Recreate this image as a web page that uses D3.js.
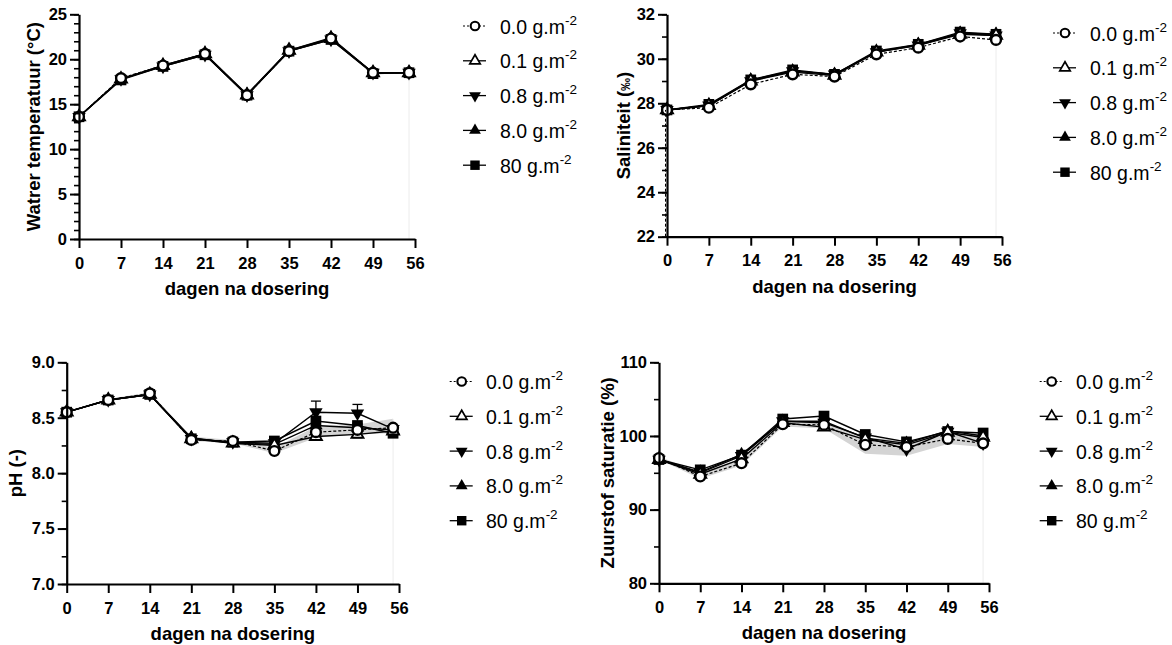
<!DOCTYPE html>
<html>
<head>
<meta charset="utf-8">
<script src="https://cdn.jsdelivr.net/npm/d3@7"></script>
<style>
  body { margin: 0; background: #fff; }
  svg { display: block; }
  text { font-family: "Liberation Sans", Arial, Helvetica, sans-serif; fill: #000; }
</style>
</head>
<body>
<svg id="chart" width="1172" height="645"></svg>
<script>
// Sampling days and dose groups
const days = [0, 7, 14, 21, 28, 35, 42, 49, 55];
const doses = ["0.0", "0.1", "0.8", "8.0", "80"];
const xTickValues = [0, 7, 14, 21, 28, 35, 42, 49, 56];

// Water temperature (°C) per dose group
const temp00 = [13.6, 17.9, 19.3, 20.6, 16.0, 20.9, 22.3, 18.5, 18.5];
const temp01 = [13.6, 17.8, 19.3, 20.6, 16.0, 21.0, 22.3, 18.5, 18.5];
const temp08 = [13.6, 17.8, 19.2, 20.5, 16.0, 20.9, 22.2, 18.5, 18.5];
const temp80 = [13.6, 17.8, 19.3, 20.6, 16.1, 21.0, 22.4, 18.5, 18.5];
const temp800 = [13.6, 17.7, 19.2, 20.5, 16.0, 20.9, 22.2, 18.4, 18.5];

// Salinity (‰) per dose group
const sal00 = [27.7, 27.8, 28.85, 29.3, 29.2, 30.2, 30.5, 31.0, 30.85];
const sal01 = [27.7, 27.9, 29.0, 29.4, 29.25, 30.3, 30.6, 31.1, 31.05];
const sal08 = [27.7, 27.9, 29.0, 29.45, 29.3, 30.3, 30.6, 31.15, 31.05];
const sal80 = [27.7, 27.9, 29.05, 29.45, 29.3, 30.3, 30.65, 31.15, 31.1];
const sal800 = [27.7, 27.95, 29.05, 29.5, 29.3, 30.35, 30.65, 31.2, 31.1];

// pH per dose group, with standard deviations
const ph00 = [8.55, 8.66, 8.72, 8.30, 8.29, 8.20, 8.37, 8.39, 8.41];
const ph01 = [8.55, 8.66, 8.71, 8.31, 8.27, 8.25, 8.33, 8.35, 8.38];
const ph08 = [8.55, 8.66, 8.71, 8.31, 8.28, 8.27, 8.55, 8.54, 8.40];
const ph80 = [8.55, 8.66, 8.71, 8.32, 8.27, 8.26, 8.43, 8.41, 8.39];
const ph800 = [8.55, 8.66, 8.71, 8.31, 8.28, 8.29, 8.47, 8.43, 8.36];
const phSd01 = [0, 0, 0, 0, 0.01, 0, 0.02, 0.03, 0];
const phSd08 = [0, 0, 0, 0, 0, 0, 0.10, 0.08, 0];
const phSd80 = [0, 0, 0, 0, 0, 0, 0.02, 0.03, 0];
const phSd800 = [0, 0, 0, 0, 0, 0.01, 0.03, 0.02, 0.01];
const phCtrlLow = [8.55, 8.65, 8.70, 8.29, 8.27, 8.18, 8.32, 8.35, 8.36];
const phCtrlHigh = [8.56, 8.67, 8.73, 8.33, 8.30, 8.23, 8.42, 8.44, 8.49];

// Oxygen saturation (%) per dose group
const do00 = [97.0, 94.5, 96.3, 101.6, 101.5, 98.8, 98.5, 99.6, 99.0];
const do01 = [96.8, 94.8, 96.9, 101.8, 101.2, 99.5, 98.8, 100.5, 99.8];
const do08 = [96.8, 95.0, 97.3, 102.0, 101.8, 99.8, 98.2, 100.6, 99.0];
const do80 = [96.8, 95.1, 97.5, 102.0, 102.0, 99.7, 99.0, 100.7, 100.0];
const do800 = [96.8, 95.4, 97.4, 102.3, 102.7, 100.2, 99.2, 100.6, 100.4];
const doCtrlLow = [96.8, 94.2, 96.0, 101.3, 101.0, 97.6, 97.3, 98.9, 98.5];
const doCtrlHigh = [97.2, 95.0, 96.8, 101.9, 101.9, 99.8, 99.4, 100.2, 100.4];

// Panel definitions
const panels = [
  {
    title: "Watrer temperatuur (°C)", domain: [0, 25], major: d3.range(0, 26, 5), minor: d3.range(0, 26, 1), fmt: d3.format("d"),
    series: [temp00, temp01, temp08, temp80, temp800], sd: null, band: null,
    x0: 79, x1: 415, yb: 239, yt: 14.3, titleX: 40, legX: 475, legTextX: 500, legY: 26, dashedAxis: false
  },
  {
    title: "Saliniteit (‰)", domain: [22, 32], major: d3.range(22, 33, 2), minor: d3.range(22, 33, 1), fmt: d3.format("d"),
    series: [sal00, sal01, sal08, sal80, sal800], sd: null, band: null,
    x0: 667, x1: 1002, yb: 236.7, yt: 14.3, titleX: 630, legX: 1065, legTextX: 1090, legY: 33, dashedAxis: true
  },
  {
    title: "pH (-)", domain: [7, 9], major: d3.range(7, 9.01, 0.5), minor: d3.range(7, 9.01, 0.25), fmt: d3.format(".1f"),
    series: [ph00, ph01, ph08, ph80, ph800], sd: [null, phSd01, phSd08, phSd80, phSd800], band: [phCtrlLow, phCtrlHigh],
    x0: 66.7, x1: 399, yb: 584, yt: 362.3, titleX: 22, legX: 461.7, legTextX: 486, legY: 381.5, dashedAxis: false
  },
  {
    title: "Zuurstof saturatie (%)", domain: [80, 110], major: d3.range(80, 111, 10), minor: d3.range(80, 111, 5), fmt: d3.format("d"),
    series: [do00, do01, do08, do80, do800], sd: null, band: [doCtrlLow, doCtrlHigh],
    x0: 659, x1: 989, yb: 583.3, yt: 362.3, titleX: 614, legX: 1051.7, legTextX: 1076, legY: 381.5, dashedAxis: false
  }
];

const svg = d3.select("#chart");

// Marker drawing per dose group: open circle, open triangle, filled down-triangle, filled triangle, filled square
function drawMarker(g, i, cx, cy, scale) {
  const s = scale || 1;
  if (i === 0) {
    g.append("circle").attr("cx", cx).attr("cy", cy).attr("r", 4.9 * s)
      .attr("fill", "#fff").attr("stroke", "#000").attr("stroke-width", 2.4 * s);
  } else if (i === 1) {
    g.append("path").attr("d", d3.symbol().type(d3.symbolTriangle).size(62 * s * s)())
      .attr("transform", `translate(${cx},${cy})`)
      .attr("fill", "#fff").attr("stroke", "#000").attr("stroke-width", 1.9 * s);
  } else if (i === 2) {
    g.append("path").attr("d", d3.symbol().type(d3.symbolTriangle).size(78 * s * s)())
      .attr("transform", `translate(${cx},${cy}) rotate(180)`)
      .attr("fill", "#000");
  } else if (i === 3) {
    g.append("path").attr("d", d3.symbol().type(d3.symbolTriangle).size(78 * s * s)())
      .attr("transform", `translate(${cx},${cy})`)
      .attr("fill", "#000");
  } else {
    g.append("path").attr("d", d3.symbol().type(d3.symbolSquare).size(115 * s * s)())
      .attr("transform", `translate(${cx},${cy})`)
      .attr("fill", "#000");
  }
}

panels.forEach(p => {
  const x = d3.scaleLinear().domain([0, 56]).range([p.x0, p.x1]);
  const y = d3.scaleLinear().domain(p.domain).range([p.yb, p.yt]);
  const g = svg.append("g");

  // Spread band of the control group
  if (p.band) {
    const area = d3.area()
      .x((d, k) => x(days[k]))
      .y0((d, k) => y(p.band[0][k]))
      .y1((d, k) => y(p.band[1][k]));
    g.append("path").attr("d", area(days)).attr("fill", "#d4d4d4");
  }

  // Faint drop line at the final sampling day
  const last = days.length - 1;
  const lastMin = d3.min(p.series, s => s[last]);
  g.append("line")
    .attr("x1", x(days[last])).attr("x2", x(days[last]))
    .attr("y1", y(p.band ? p.band[1][last] : lastMin)).attr("y2", p.yb)
    .attr("stroke", "#ececec").attr("stroke-width", 1);

  // Lines, drawn so the control group ends on top
  const order = [4, 3, 2, 1, 0];
  order.forEach(i => {
    const line = d3.line().x((d, k) => x(days[k])).y(d => y(d));
    g.append("path").attr("d", line(p.series[i]))
      .attr("fill", "none").attr("stroke", "#000")
      .attr("stroke-width", i === 0 ? 1.2 : 1.4)
      .attr("stroke-dasharray", i === 0 ? "3,2" : null);
  });

  // Error bars
  if (p.sd) {
    order.forEach(i => {
      const sd = p.sd[i];
      if (!sd) return;
      p.series[i].forEach((v, k) => {
        if (!sd[k]) return;
        const cx = x(days[k]);
        const dir = (i === 1) ? -1 : 1;
        const end = y(v + dir * sd[k]);
        g.append("line").attr("x1", cx).attr("x2", cx).attr("y1", y(v)).attr("y2", end)
          .attr("stroke", "#000").attr("stroke-width", 1.3);
        g.append("line").attr("x1", cx - 5).attr("x2", cx + 5).attr("y1", end).attr("y2", end)
          .attr("stroke", "#000").attr("stroke-width", 1.3);
      });
    });
  }

  // Markers
  order.forEach(i => {
    p.series[i].forEach((v, k) => drawMarker(g, i, x(days[k]), y(v)));
  });

  // Dashed overlay along the y axis below the first control value
  if (p.dashedAxis) {
    g.append("line").attr("x1", p.x0 - 1.5).attr("x2", p.x0 - 1.5)
      .attr("y1", p.yb).attr("y2", y(p.series[0][0]))
      .attr("stroke", "#000").attr("stroke-width", 1).attr("stroke-dasharray", "3,2");
  }

  // Y axis: minor then major ticks
  const yMinor = g.append("g").attr("transform", `translate(${p.x0},0)`)
    .call(d3.axisLeft(y).tickValues(p.minor).tickSize(5).tickSizeOuter(0).tickFormat(""));
  yMinor.select(".domain").remove();
  yMinor.selectAll("line").attr("stroke-width", 1.6);

  const yAxis = g.append("g").attr("transform", `translate(${p.x0},0)`)
    .call(d3.axisLeft(y).tickValues(p.major).tickSize(9).tickSizeOuter(0).tickPadding(3).tickFormat(p.fmt));
  yAxis.select(".domain").attr("stroke-width", 2.2);
  yAxis.selectAll("line").attr("stroke-width", 2);
  yAxis.selectAll("text").attr("font-size", 16.5).attr("font-weight", "bold")
    .style("font-family", "'Liberation Sans', Arial, sans-serif");

  // X axis
  const xAxis = g.append("g").attr("transform", `translate(0,${p.yb})`)
    .call(d3.axisBottom(x).tickValues(xTickValues).tickSize(9).tickSizeOuter(0).tickPadding(9).tickFormat(d3.format("d")));
  xAxis.select(".domain").attr("stroke-width", 2.2);
  xAxis.selectAll("line").attr("stroke-width", 2);
  xAxis.selectAll("text").attr("font-size", 16.5).attr("font-weight", "bold")
    .style("font-family", "'Liberation Sans', Arial, sans-serif");

  // Axis titles
  g.append("text")
    .attr("x", (p.x0 + p.x1) / 2).attr("y", p.yb + 56)
    .attr("text-anchor", "middle").attr("font-size", 18.5).attr("font-weight", "bold")
    .text("dagen na dosering");

  const yt = g.append("text")
    .attr("transform", `translate(${p.titleX},${(p.yb + p.yt) / 2}) rotate(-90)`)
    .attr("text-anchor", "middle").attr("font-size", 18.5).attr("font-weight", "bold");
  if (p.title.includes("‰")) {
    yt.append("tspan").text("Saliniteit (");
    yt.append("tspan").attr("font-size", 13).text("‰");
    yt.append("tspan").text(")");
  } else {
    yt.text(p.title);
  }

  // Legend
  doses.forEach((dose, i) => {
    const ly = p.legY + i * 34.8;
    g.append("line").attr("x1", p.legX - 12).attr("x2", p.legX + 11)
      .attr("y1", ly).attr("y2", ly).attr("stroke", "#000")
      .attr("stroke-width", i === 0 ? 1 : 1.3)
      .attr("stroke-dasharray", i === 0 ? "2,2" : null);
    drawMarker(g, i, p.legX, ly, 0.88);
    const t = g.append("text").attr("x", p.legTextX).attr("y", ly + 7.5).attr("font-size", 19.5);
    t.append("tspan").text(dose + " g.m");
    t.append("tspan").attr("font-size", 13.5).attr("dy", -9).text("-2");
  });
});
</script>
</body>
</html>
